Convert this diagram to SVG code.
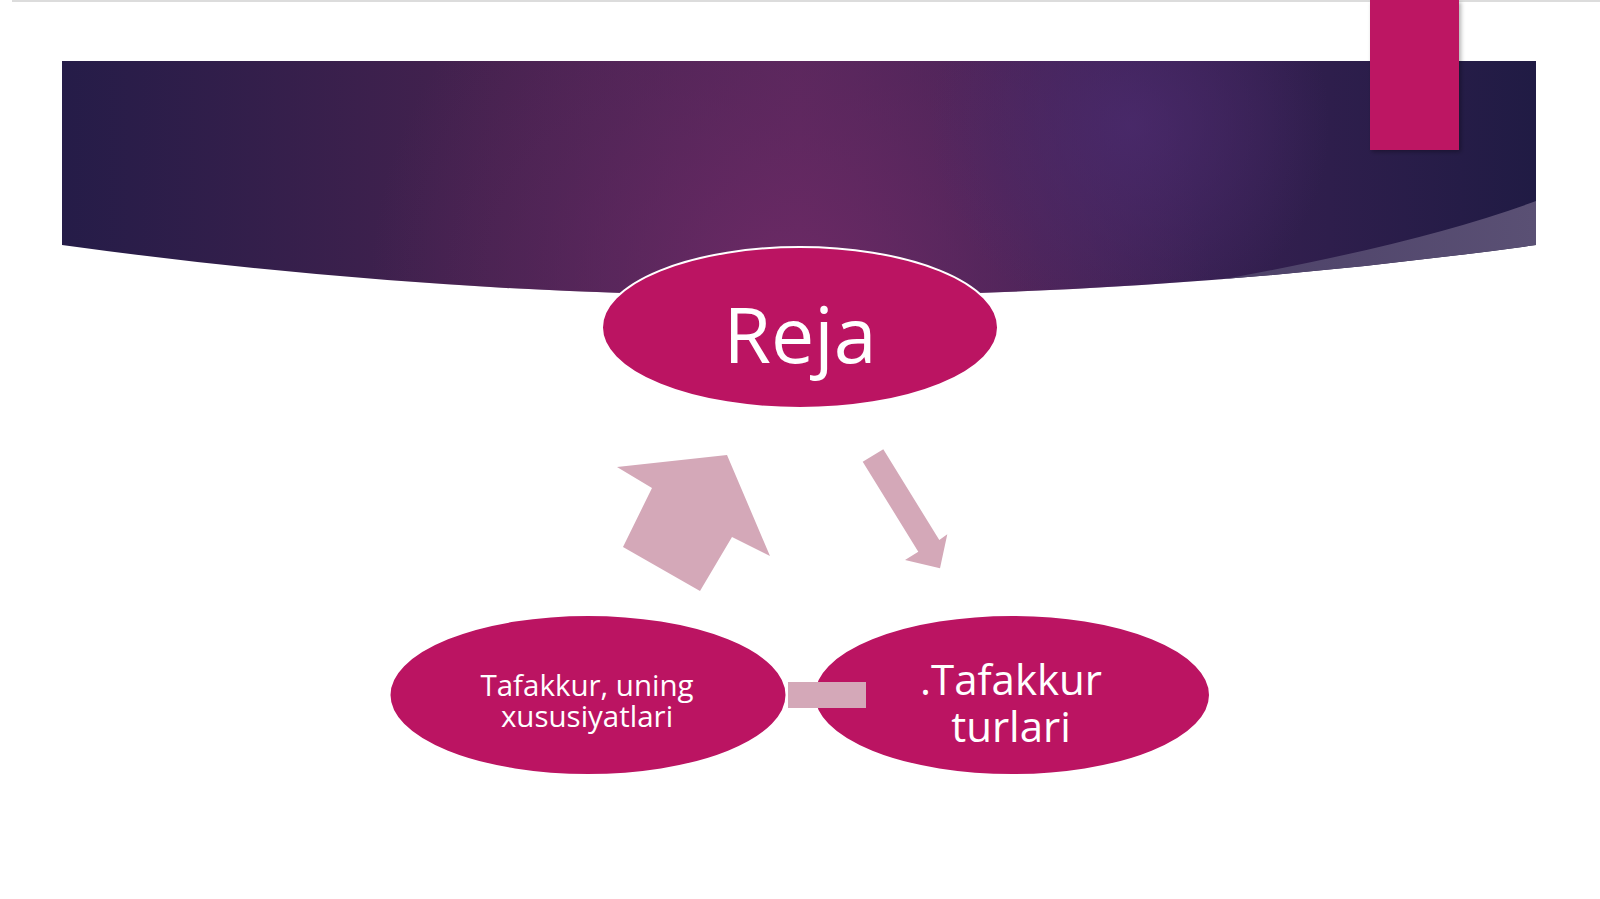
<svg xmlns="http://www.w3.org/2000/svg" width="1600" height="899" viewBox="0 0 1600 899">
  <defs>
    <style>
      .node { fill: #bb1462; stroke: #ffffff; stroke-width: 2; }
      .lbl { fill: #ffffff; font-family: "Open Sans", "Noto Sans", "Liberation Sans", sans-serif; text-anchor: middle; }
      .conn { fill: #d4a8b8; stroke: none; }
    </style>
    <linearGradient id="bannerBase" x1="0" y1="0" x2="1" y2="0">
      <stop offset="0" stop-color="#251c48"/>
      <stop offset="0.3" stop-color="#46224f"/>
      <stop offset="0.5" stop-color="#5a275c"/>
      <stop offset="0.72" stop-color="#3c2154"/>
      <stop offset="1" stop-color="#201b44"/>
    </linearGradient>
    <radialGradient id="glowCenter" cx="790" cy="290" r="420" gradientUnits="userSpaceOnUse">
      <stop offset="0" stop-color="#6e2a66" stop-opacity="0.95"/>
      <stop offset="0.6" stop-color="#5e2860" stop-opacity="0.4"/>
      <stop offset="1" stop-color="#5e2860" stop-opacity="0"/>
    </radialGradient>
    <radialGradient id="glowRight" cx="1130" cy="125" r="200" gradientUnits="userSpaceOnUse">
      <stop offset="0" stop-color="#4a2a6c" stop-opacity="0.85"/>
      <stop offset="1" stop-color="#4a2a6c" stop-opacity="0"/>
    </radialGradient>
    <linearGradient id="bandGrad" x1="1150" y1="0" x2="1536" y2="0" gradientUnits="userSpaceOnUse">
      <stop offset="0" stop-color="#4a3e66"/>
      <stop offset="1" stop-color="#5a5074"/>
    </linearGradient>
    <clipPath id="bannerClip">
      <path d="M62,61 H1536 V245 Q800,347 62,245 Z"/>
    </clipPath>
    <filter id="shadow" x="-20%" y="-20%" width="140%" height="140%">
      <feDropShadow dx="2" dy="2" stdDeviation="2" flood-color="#000000" flood-opacity="0.3"/>
    </filter>
  </defs>

  <rect x="0" y="0" width="1600" height="899" fill="#ffffff"/>
  <line x1="12" y1="1" x2="1600" y2="1" stroke="#dcdcdc" stroke-width="2"/>

  <g id="banner">
    <g clip-path="url(#bannerClip)">
      <rect x="62" y="61" width="1474" height="300" fill="url(#bannerBase)"/>
      <rect x="62" y="61" width="1474" height="300" fill="url(#glowCenter)"/>
      <rect x="62" y="61" width="1474" height="300" fill="url(#glowRight)"/>
      <path d="M1100,300 Q1390,255 1536,201 L1545,201 L1545,340 Z" fill="url(#bandGrad)"/>
    </g>
    <rect x="1370" y="0" width="89" height="150" fill="#bd1463" filter="url(#shadow)"/>
  </g>

  <g id="connectors">
    <polygon class="conn" points="617,467 727,455 770,556 732,537 700,591 623,547 652,488"/>
    <polygon class="conn" points="862.7,461.7 883.3,449.3 939.3,540 947.3,534.3 940,568.3 905,560 918.3,551.7"/>
  </g>

  <g id="node-reja">
    <ellipse class="node" cx="800" cy="327.5" rx="198" ry="80.5"/>
    <text class="lbl" x="800" y="363" font-size="77">Reja</text>
  </g>

  <g id="node-tafakkur">
    <ellipse class="node" cx="588" cy="695" rx="198.5" ry="80"/>
    <text class="lbl" font-size="29.5"><tspan x="587" y="696">Tafakkur, uning</tspan><tspan x="587" y="727">xususiyatlari</tspan></text>
  </g>

  <g id="node-turlari">
    <ellipse class="node" cx="1012" cy="695" rx="198" ry="80"/>
    <text class="lbl" font-size="42"><tspan x="1011" y="695">.Tafakkur</tspan><tspan x="1011" y="742">turlari</tspan></text>
  </g>

  <g id="link-rect">
    <rect class="conn" x="788" y="682" width="78" height="26"/>
  </g>
</svg>
